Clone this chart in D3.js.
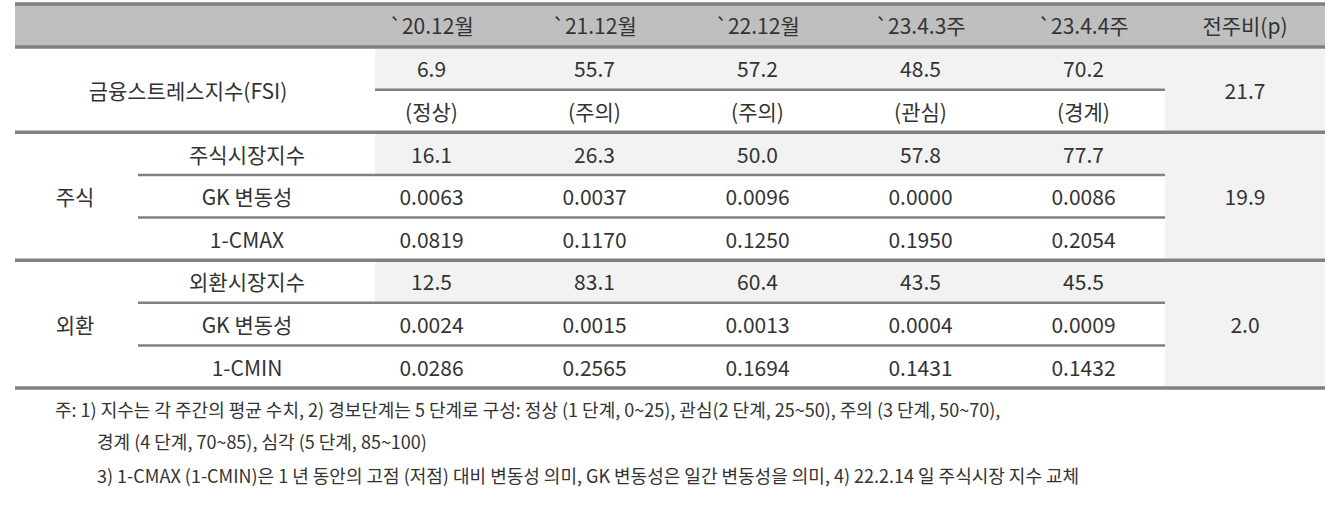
<!DOCTYPE html><html><head><meta charset="utf-8"><script src="https://cdn.jsdelivr.net/npm/d3@7"></script>
<style>body{margin:0;background:#fff}text{font-family:"Noto Sans CJK KR","Noto Sans",sans-serif;fill:#333}</style></head><body><svg id="c" width="1339" height="516"></svg><script>
const periods=["`20.12월","`21.12월","`22.12월","`23.4.3주","`23.4.4주"];
const changeHeader="전주비(p)";
const fsiValues=["6.9","55.7","57.2","48.5","70.2"];
const fsiLevels=["(정상)","(주의)","(주의)","(관심)","(경계)"];
const fsiChange="21.7";
const stockRows=["주식시장지수","GK 변동성","1-CMAX"];
const stockValues=[["16.1","26.3","50.0","57.8","77.7"],["0.0063","0.0037","0.0096","0.0000","0.0086"],["0.0819","0.1170","0.1250","0.1950","0.2054"]];
const stockChange="19.9";
const fxRows=["외환시장지수","GK 변동성","1-CMIN"];
const fxValues=[["12.5","83.1","60.4","43.5","45.5"],["0.0024","0.0015","0.0013","0.0004","0.0009"],["0.0286","0.2565","0.1694","0.1431","0.1432"]];
const fxChange="2.0";
const notes=["주: 1) 지수는 각 주간의 평균 수치, 2) 경보단계는 5 단계로 구성: 정상 (1 단계, 0~25), 관심(2 단계, 25~50), 주의 (3 단계, 50~70),","경계 (4 단계, 70~85), 심각 (5 단계, 85~100)","3) 1-CMAX (1-CMIN)은 1 년 동안의 고점 (저점) 대비 변동성 의미, GK 변동성은 일간 변동성을 의미, 4) 22.2.14 일 주식시장 지수 교체"];
const svg=d3.select("#c");
const x=d3.scaleBand().domain(periods).range([350,1165]);
const cx=p=>x(p)+x.bandwidth()/2;
const y=d3.scaleLinear().domain([0,8]).range([47,388]);
const rh=y(1)-y(0);
const L=15,R=1325,V=375,CH=1165,CC=1245,FS=21;
const rect=(x0,y0,x1,y1,f)=>svg.append("rect").attr("x",x0).attr("y",y0).attr("width",x1-x0).attr("height",y1-y0).attr("fill",f);
const line=(x0,x1,yy,w)=>svg.append("line").attr("x1",x0).attr("x2",x1).attr("y1",yy).attr("y2",yy).attr("stroke","#808080").attr("stroke-width",w);
const txt=(s,xx,yy,sz=FS)=>svg.append("text").attr("x",xx).attr("y",yy).attr("text-anchor","middle").attr("dominant-baseline","central").attr("font-size",sz).text(s);
rect(L,4,R,y(0),"#bfbfbf");
rect(V,y(0),CH,y(1),"#f2f2f2");
rect(V,y(2),CH,y(3),"#f2f2f2");
rect(V,y(5),CH,y(6),"#f2f2f2");
rect(CH,y(0),R,y(8),"#f2f2f2");
periods.forEach(p=>txt(p,cx(p),25));
txt(changeHeader,CC,25);
const mid=i=>y(i)+rh/2;
txt("금융스트레스지수(FSI)",188,y(1));
periods.forEach((p,i)=>{txt(fsiValues[i],cx(p),mid(0));txt(fsiLevels[i],cx(p),mid(1));});
txt(fsiChange,CC,y(1));
[[stockRows,stockValues,stockChange,"주식",2],[fxRows,fxValues,fxChange,"외환",5]].forEach(([rows,vals,ch,g,s])=>{
 txt(g,75,mid(s+1));
 rows.forEach((r,j)=>{txt(r,247,mid(s+j));periods.forEach((p,i)=>txt(vals[j][i],cx(p),mid(s+j)));});
 txt(ch,CC,mid(s+1));
 line(138,CH,y(s+1),2.5);line(138,CH,y(s+2),2.5);
});
line(V,CH,y(1),2.5);
[4,y(0),y(2),y(5),y(8)].forEach(v=>line(L,R,v,3.5));
txt(notes[0],0,409,18).attr("text-anchor","start").attr("x",55);
txt(notes[1],0,441,18).attr("text-anchor","start").attr("x",97);
txt(notes[2],0,475,18).attr("text-anchor","start").attr("x",97);
</script></body></html>
